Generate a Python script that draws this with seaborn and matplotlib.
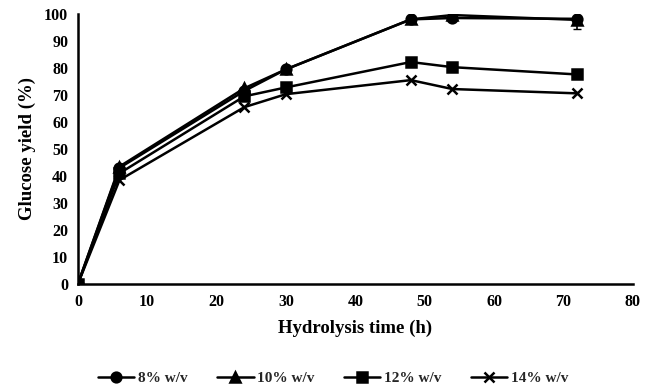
import matplotlib
matplotlib.use("Agg")
import matplotlib.pyplot as plt
import seaborn as sns
import pandas as pd

time_h = [0, 6, 24, 30, 48, 54, 72]
series_names = ["8% w/v", "10% w/v", "12% w/v", "14% w/v"]
y_8 = [0, 43, 71.5, 79.5, 98, 98.5, 98.2]
y_10 = [0, 43.5, 72.5, 79.5, 98, 99.6, 97.8]
y_12 = [0, 41, 69.5, 72.8, 82.2, 80.3, 77.6]
y_14 = [0, 38.5, 65.5, 70.3, 75.5, 72.2, 70.6]
err_10_last = 3.2

sns.set_theme(style="white")
plt.rcParams['font.family'] = ['Liberation Serif', 'DejaVu Serif']
plt.rcParams['font.weight'] = 'bold'

rows = []
for name, ys in zip(series_names, [y_8, y_10, y_12, y_14]):
    for t, v in zip(time_h, ys):
        rows.append({"time": t, "yield": v, "series": name})
df = pd.DataFrame(rows)

fig = plt.figure(figsize=(6.49, 3.88), dpi=100)
ax = fig.add_axes([0.120, 0.268, 0.855, 0.696])

markers = {"8% w/v": "o", "10% w/v": "^", "12% w/v": "s", "14% w/v": "x"}
zorders = {"8% w/v": 3, "10% w/v": 3, "12% w/v": 4, "14% w/v": 3}
for name in series_names:
    sub = df[df["series"] == name]
    sns.lineplot(data=sub, x="time", y="yield", color="black",
                 marker=markers[name], ax=ax, linewidth=1.8, markersize=7,
                 markeredgewidth=1.8, markeredgecolor="black",
                 markerfacecolor="black", label=name, zorder=zorders[name])

ax.errorbar([time_h[-1]], [y_10[-1]], yerr=[err_10_last], fmt="none",
            ecolor="black", elinewidth=1.2, capsize=3, zorder=5)

ax.set_xlim(0, 80)
ax.set_ylim(0, 100)
ax.set_xticks(range(0, 81, 10))
ax.set_yticks(range(0, 101, 10))
for s in ["top", "right"]:
    ax.spines[s].set_visible(False)
for s in ["left", "bottom"]:
    ax.spines[s].set_color("black")
    ax.spines[s].set_linewidth(1.8)
ax.tick_params(axis="both", colors="black", labelsize=11.5, width=1.5, length=4)
ax.tick_params(axis="y", direction="out", pad=3)
ax.tick_params(axis="x", direction="in", pad=7)
for lab in ax.get_xticklabels() + ax.get_yticklabels():
    lab.set_fontweight("bold")

ax.set_xlabel("Hydrolysis time (h)", fontsize=13.5, fontweight="bold", color="black", labelpad=7)
ax.set_ylabel("Glucose yield (%)", fontsize=13.5, fontweight="bold", color="black", labelpad=6)

handles, labels = ax.get_legend_handles_labels()
ax.legend(handles, labels, loc="center", bbox_to_anchor=(0.46, -0.35),
          ncol=4, frameon=False, handlelength=2.4,
          columnspacing=1.9, handletextpad=0.25,
          prop={"weight": "bold", "size": 11})

fig.savefig("out.png", dpi=100)
